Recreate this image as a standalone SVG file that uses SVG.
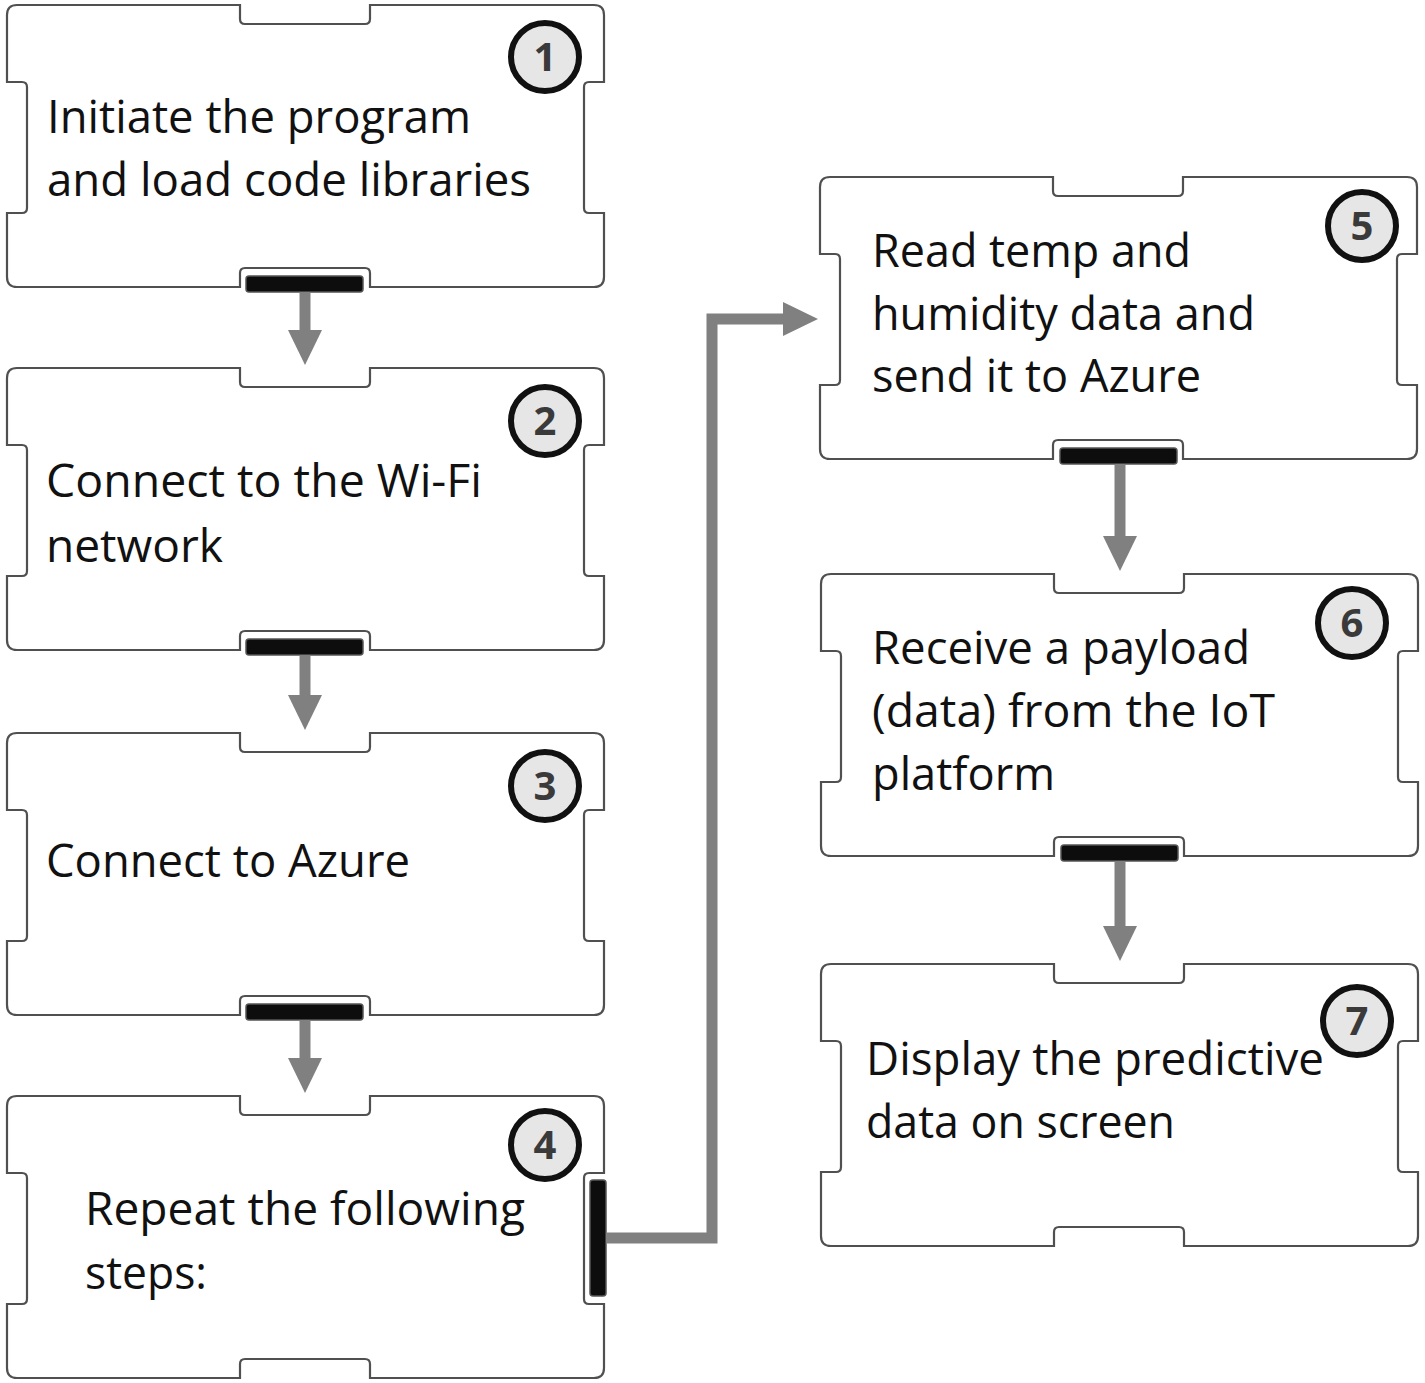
<svg xmlns="http://www.w3.org/2000/svg" xmlns:xlink="http://www.w3.org/1999/xlink" width="1425" height="1383" viewBox="0 0 1425 1383">
<style>
.box{fill:#ffffff;stroke:#505050;stroke-width:2.2}
.bar{fill:#0d0d0d;stroke:#555;stroke-width:1.5}
.num{fill:#e6e6e6;stroke:#111;stroke-width:6}
.numt{font-family:"Open Sans","Liberation Sans",sans-serif;font-weight:bold;font-size:40px;fill:#3a3a3a;text-anchor:middle}
.lbl{font-family:"Open Sans","Liberation Sans",sans-serif;font-size:46px;fill:#111}
.conn{fill:none;stroke:#808080;stroke-width:11;stroke-linejoin:miter}
</style>
<defs>
<path id="shape" d="M10,0 H233 V14 Q233,19 238,19 H358 Q363,19 363,14 V0 H587 Q597,0 597,10 V77 H582 Q577,77 577,82 V203 Q577,208 582,208 H597 V272 Q597,282 587,282 H363 V268 Q363,263 358,263 H238 Q233,263 233,268 V282 H10 Q0,282 0,272 V208 H15 Q20,208 20,203 V82 Q20,77 15,77 H0 V10 Q0,0 10,0 Z"/>
<marker id="head" viewBox="0 0 35 34" refX="0" refY="17" markerWidth="35" markerHeight="34" markerUnits="userSpaceOnUse" orient="auto">
<path d="M0,0 L35,17 L0,34 Z" fill="#808080"/>
</marker>
</defs>
<rect width="1425" height="1383" fill="#ffffff"/>

<g id="node1">
<use xlink:href="#shape" href="#shape" class="box" x="7" y="5"/>
<rect class="bar" x="246" y="276" width="117" height="16" rx="3"/>
<circle class="num" cx="545" cy="57" r="34"/>
<text class="numt" x="545" y="71">1</text>
<text class="lbl" x="47" y="133" textLength="424" lengthAdjust="spacingAndGlyphs">Initiate the program</text>
<text class="lbl" x="47" y="196" textLength="484" lengthAdjust="spacingAndGlyphs">and load code libraries</text>
</g>

<g id="node2">
<use xlink:href="#shape" href="#shape" class="box" x="7" y="368"/>
<rect class="bar" x="246" y="639" width="117" height="16" rx="3"/>
<circle class="num" cx="545" cy="421" r="34"/>
<text class="numt" x="545" y="435">2</text>
<text class="lbl" x="46" y="497" textLength="436" lengthAdjust="spacingAndGlyphs">Connect to the Wi-Fi</text>
<text class="lbl" x="46" y="562" textLength="177" lengthAdjust="spacingAndGlyphs">network</text>
</g>

<g id="node3">
<use xlink:href="#shape" href="#shape" class="box" x="7" y="733"/>
<rect class="bar" x="246" y="1004" width="117" height="16" rx="3"/>
<circle class="num" cx="545" cy="786" r="34"/>
<text class="numt" x="545" y="800">3</text>
<text class="lbl" x="46" y="877" textLength="364" lengthAdjust="spacingAndGlyphs">Connect to Azure</text>
</g>

<g id="node4">
<use xlink:href="#shape" href="#shape" class="box" x="7" y="1096"/>
<rect class="bar" x="590" y="1180" width="16" height="116" rx="3"/>
<circle class="num" cx="545" cy="1145" r="34"/>
<text class="numt" x="545" y="1159">4</text>
<text class="lbl" x="85" y="1225" textLength="440" lengthAdjust="spacingAndGlyphs">Repeat the following</text>
<text class="lbl" x="85" y="1289" textLength="122" lengthAdjust="spacingAndGlyphs">steps:</text>
</g>

<g id="node5">
<use xlink:href="#shape" href="#shape" class="box" x="820" y="177"/>
<rect class="bar" x="1060" y="448" width="117" height="16" rx="3"/>
<circle class="num" cx="1362" cy="226" r="34"/>
<text class="numt" x="1362" y="240">5</text>
<text class="lbl" x="872" y="267" textLength="319" lengthAdjust="spacingAndGlyphs">Read temp and</text>
<text class="lbl" x="872" y="330" textLength="383" lengthAdjust="spacingAndGlyphs">humidity data and</text>
<text class="lbl" x="872" y="392" textLength="329" lengthAdjust="spacingAndGlyphs">send it to Azure</text>
</g>

<g id="node6">
<use xlink:href="#shape" href="#shape" class="box" x="821" y="574"/>
<rect class="bar" x="1061" y="845" width="117" height="16" rx="3"/>
<circle class="num" cx="1352" cy="623" r="34"/>
<text class="numt" x="1352" y="637">6</text>
<text class="lbl" x="872" y="664" textLength="378" lengthAdjust="spacingAndGlyphs">Receive a payload</text>
<text class="lbl" x="872" y="727" textLength="403" lengthAdjust="spacingAndGlyphs">(data) from the IoT</text>
<text class="lbl" x="872" y="790" textLength="183" lengthAdjust="spacingAndGlyphs">platform</text>
</g>

<g id="node7">
<use xlink:href="#shape" href="#shape" class="box" x="821" y="964"/>
<circle class="num" cx="1357" cy="1021" r="34"/>
<text class="numt" x="1357" y="1035">7</text>
<text class="lbl" x="866" y="1075" textLength="458" lengthAdjust="spacingAndGlyphs">Display the predictive</text>
<text class="lbl" x="866" y="1138" textLength="309" lengthAdjust="spacingAndGlyphs">data on screen</text>
</g>

<g id="connectors">
<path class="conn" d="M305,292 V330" marker-end="url(#head)"/>
<path class="conn" d="M305,655 V695" marker-end="url(#head)"/>
<path class="conn" d="M305,1020 V1058" marker-end="url(#head)"/>
<path class="conn" d="M606,1238 H712 V319 H783" marker-end="url(#head)"/>
<path class="conn" d="M1120,464 V536" marker-end="url(#head)"/>
<path class="conn" d="M1120,861 V926" marker-end="url(#head)"/>
</g>
</svg>
